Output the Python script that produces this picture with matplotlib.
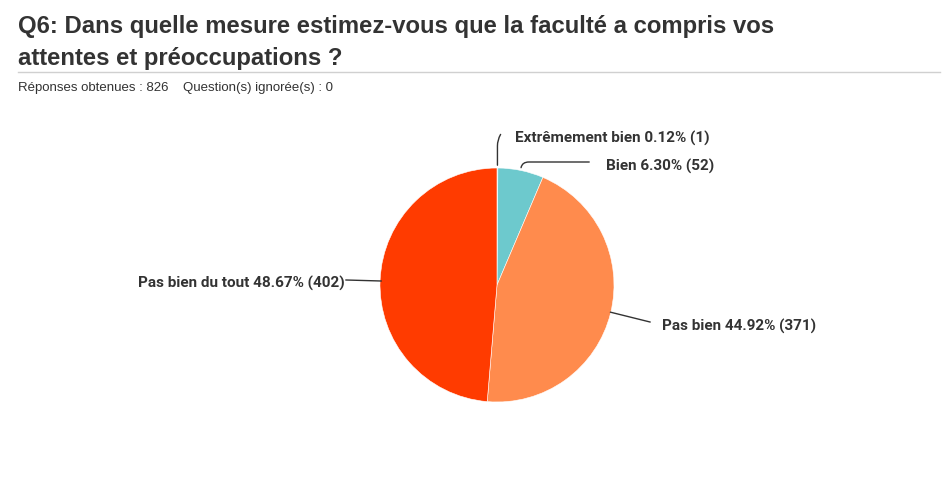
import numpy as np
import matplotlib
matplotlib.use("Agg")
import matplotlib.pyplot as plt

# data
labels = ["Extrêmement bien", "Bien", "Pas bien", "Pas bien du tout"]
percents = [0.12, 6.30, 44.92, 48.67]
counts = [1, 52, 371, 402]
colors = ["#6DC9CD", "#6DC9CD", "#FF8B4D", "#FF3B00"]

W, H = 951, 489
fig = plt.figure(figsize=(W / 100, H / 100), dpi=100)
ax = fig.add_axes([0, 0, 1, 1])

cx, cy, r = 497, H - 286, 117
wedges, _ = ax.pie(counts, colors=colors, startangle=90, counterclock=False,
                   center=(cx, cy), radius=r, frame=True,
                   wedgeprops=dict(edgecolor="white", linewidth=0.4))
ax.set_xlim(0, W)
ax.set_ylim(0, H)
ax.set_aspect("equal")
ax.axis("off")

# header
title_font = dict(fontsize=17.2, fontweight="bold", family="Liberation Sans", color="#333333", va="center")
fig.text(18 / W, 1 - 27 / H, "Q6: Dans quelle mesure estimez-vous que la faculté a compris vos", **title_font)
fig.text(18 / W, 1 - 59 / H, "attentes et préoccupations ?", **title_font)
ax.plot([18, 940], [H - 73, H - 73], color="#d0d0d0", lw=1)
fig.text(18 / W, 1 - 88 / H, "Réponses obtenues : 826    Question(s) ignorée(s) : 0",
         fontsize=9.5, family=["Liberation Sans Narrow", "Liberation Sans"], color="#333333", va="center")

# leader lines and labels
def edge_point(w, frac=0.5):
    a = np.deg2rad(w.theta1 + (w.theta2 - w.theta1) * frac)
    return cx + r * np.cos(a), cy + r * np.sin(a)

lab_font = dict(fontsize=11, fontweight="bold", family="Roboto", color="#333333", va="center")
lc = "#333333"

# Extrêmement bien: vertical up, slight curve right
x0, y0 = edge_point(wedges[0])
ax.annotate("", xy=(x0, y0), xytext=(502, H - 133),
            arrowprops=dict(arrowstyle="-", color=lc, lw=1,
                            connectionstyle="angle,angleA=60,angleB=90,rad=6"))
ax.text(515, H - 138, f"{labels[0]} {percents[0]:.2f}% ({counts[0]})", ha="left", **lab_font)

# Bien
x0, y0 = edge_point(wedges[1], 0.5)
ax.annotate("", xy=(x0, y0), xytext=(592, H - 163),
            arrowprops=dict(arrowstyle="-", color=lc, lw=1,
                            connectionstyle="angle,angleA=180,angleB=90,rad=8"))
ax.text(606, H - 166, f"{labels[1]} {percents[1]:.2f}% ({counts[1]})", ha="left", **lab_font)

# Pas bien
x0, y0 = edge_point(wedges[2], 0.5)
ax.plot([x0, 650], [y0 + 1, H - 323], color=lc, lw=1)
ax.text(662, H - 326, f"{labels[2]} {percents[2]:.2f}% ({counts[2]})", ha="left", **lab_font)

# Pas bien du tout
x0, y0 = edge_point(wedges[3], 0.5)
ax.plot([346, x0 + 1], [H - 281, H - 282], color=lc, lw=1)
ax.text(345, H - 283, f"{labels[3]} {percents[3]:.2f}% ({counts[3]})", ha="right", **lab_font)

fig.savefig("out.png", dpi=100)
